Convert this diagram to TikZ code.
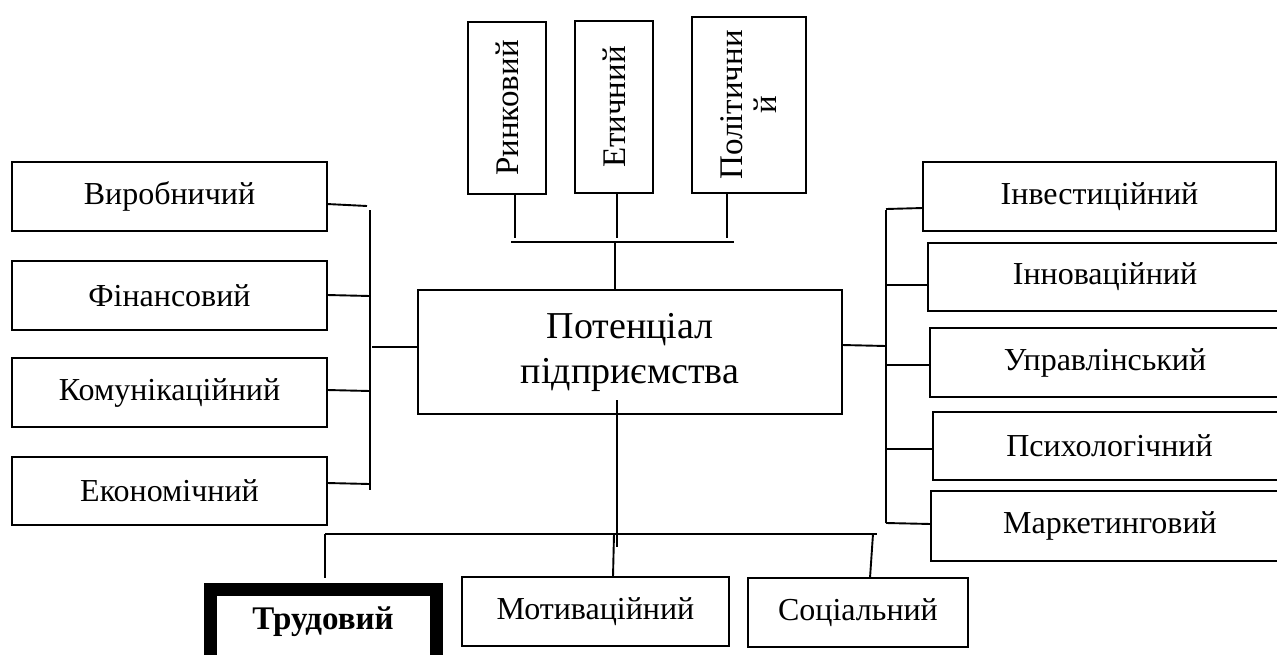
\documentclass[tikz,border=0pt]{standalone}
\usepackage{fontspec}
\setmainfont{Liberation Serif}
\usetikzlibrary{calc}
\tikzset{
  box/.style={draw=black, line width=1.8pt, rectangle, inner sep=0pt, outer sep=0pt, align=center,
    font=\fontsize{32}{37}\selectfont},
  vbox/.style={box, font=\fontsize{32}{36}\selectfont},
  link/.style={draw=black, line width=1.9pt},
}
\begin{document}
\begin{tikzpicture}[x=1pt,y=-1pt]
\clip (0,0) rectangle (1277,654);
\fill[white] (0,0) rectangle (1277,654);

% central
\node[box, minimum width=424, minimum height=124, font=\fontsize{38}{45}\selectfont] (pot) at (630,352) {Потенціал\\підприємства};

% top boxes
\node[vbox, minimum width=78, minimum height=172] (rynk) at (507,108) {};
\node[rotate=90, font=\fontsize{33}{36}\selectfont] (rynkt) at (rynk.center) {Ринковий};
\node[vbox, minimum width=78, minimum height=172] (etych) at (614,107) {};
\node[rotate=90, font=\fontsize{33}{36}\selectfont] (etycht) at (etych.center) {Етичний};
\node[vbox, minimum width=114, minimum height=176] (polit) at (749,105) {};
\node[rotate=90, align=center, font=\fontsize{33}{34}\selectfont] (politt) at (polit.center) {Політични\\й};

% left boxes
\node[box, minimum width=315, minimum height=69] (vyr) at (169.5,196.5) {Виробничий};
\node[box, minimum width=315, minimum height=69] (fin) at (169.5,295.5) {Фінансовий};
\node[box, minimum width=315, minimum height=69] (kom) at (169.5,392.5) {Комунікаційний};
\node[box, minimum width=315, minimum height=68] (eko) at (169.5,491) {Економічний};

% right boxes
\node[box, minimum width=353, minimum height=69] (inv) at (1099.5,196.5) {Інвестиційний};
\node[box, minimum width=354, minimum height=68] (inn) at (1105,277) {Інноваційний};
\node[box, minimum width=350, minimum height=69] (upr) at (1105,362.5) {Управлінський};
\node[box, minimum width=353, minimum height=68] (psy) at (1109.5,446) {Психологічний};
\node[box, minimum width=358, minimum height=70] (mar) at (1110,526) {Маркетинговий};

% bottom boxes
\node[box, line width=13pt, minimum width=226, minimum height=73] (trud) at (323,625.5) {};
\node[font=\bfseries\fontsize{33}{38}\selectfont] (trudt) at (323,622) {Трудовий};
\node[box, minimum width=267, minimum height=69] (mot) at (595.5,611.5) {Мотиваційний};
\node[box, minimum width=220, minimum height=69] (soc) at (858,612.5) {Соціальний};

% bus coordinates
\coordinate (tbL) at (511,242);
\coordinate (tbR) at (734,242);
\coordinate (lbT) at (370,210);
\coordinate (lbB) at (370,490);
\coordinate (rbT) at (886,210);
\coordinate (rbB) at (886,523);
\coordinate (bbL) at (325,534);
\coordinate (bbR) at (877,534);

% top connectors
\draw[link] (tbL) -- (tbR);
\draw[link] ($(rynk.south)+(8,0)$) -- (515,238);
\draw[link] ($(etych.south)+(3,0)$) -- (617,238);
\draw[link] ($(polit.south)+(-22,0)$) -- (727,238);
\draw[link] (615,242) -- (615,290);

% left connectors
\draw[link] (lbT) -- (lbB);
\draw[link] ($(vyr.east)+(0,7.5)$) -- (367,206);
\draw[link] ($(fin.east)+(0,-0.5)$) -- (370,296);
\draw[link] ($(kom.east)+(0,-2.5)$) -- (370,391);
\draw[link] ($(eko.east)+(0,-8)$) -- (370,484);
\draw[link] (372,347) -- ($(pot.west)+(0,-5)$);

% right connectors
\draw[link] (rbT) -- (rbB);
\draw[link] (886,209) -- ($(inv.west)+(0,11.5)$);
\draw[link] (886,285) -- ($(inn.west)+(0,8)$);
\draw[link] (886,365) -- ($(upr.west)+(0,2.5)$);
\draw[link] (886,449) -- ($(psy.west)+(0,3)$);
\draw[link] (886,523) -- ($(mar.west)+(0,-2)$);
\draw[link] ($(pot.east)+(0,-7)$) -- (886,346);

% bottom connectors
\draw[link] (bbL) -- (bbR);
\draw[link] (617,400) -- (617,547);
\draw[link] (bbL) -- (325,578);
\draw[link] (614,534) -- (mot.north -| 613,0);
\draw[link] (873,534) -- (soc.north -| 870,0);
\end{tikzpicture}
\end{document}
